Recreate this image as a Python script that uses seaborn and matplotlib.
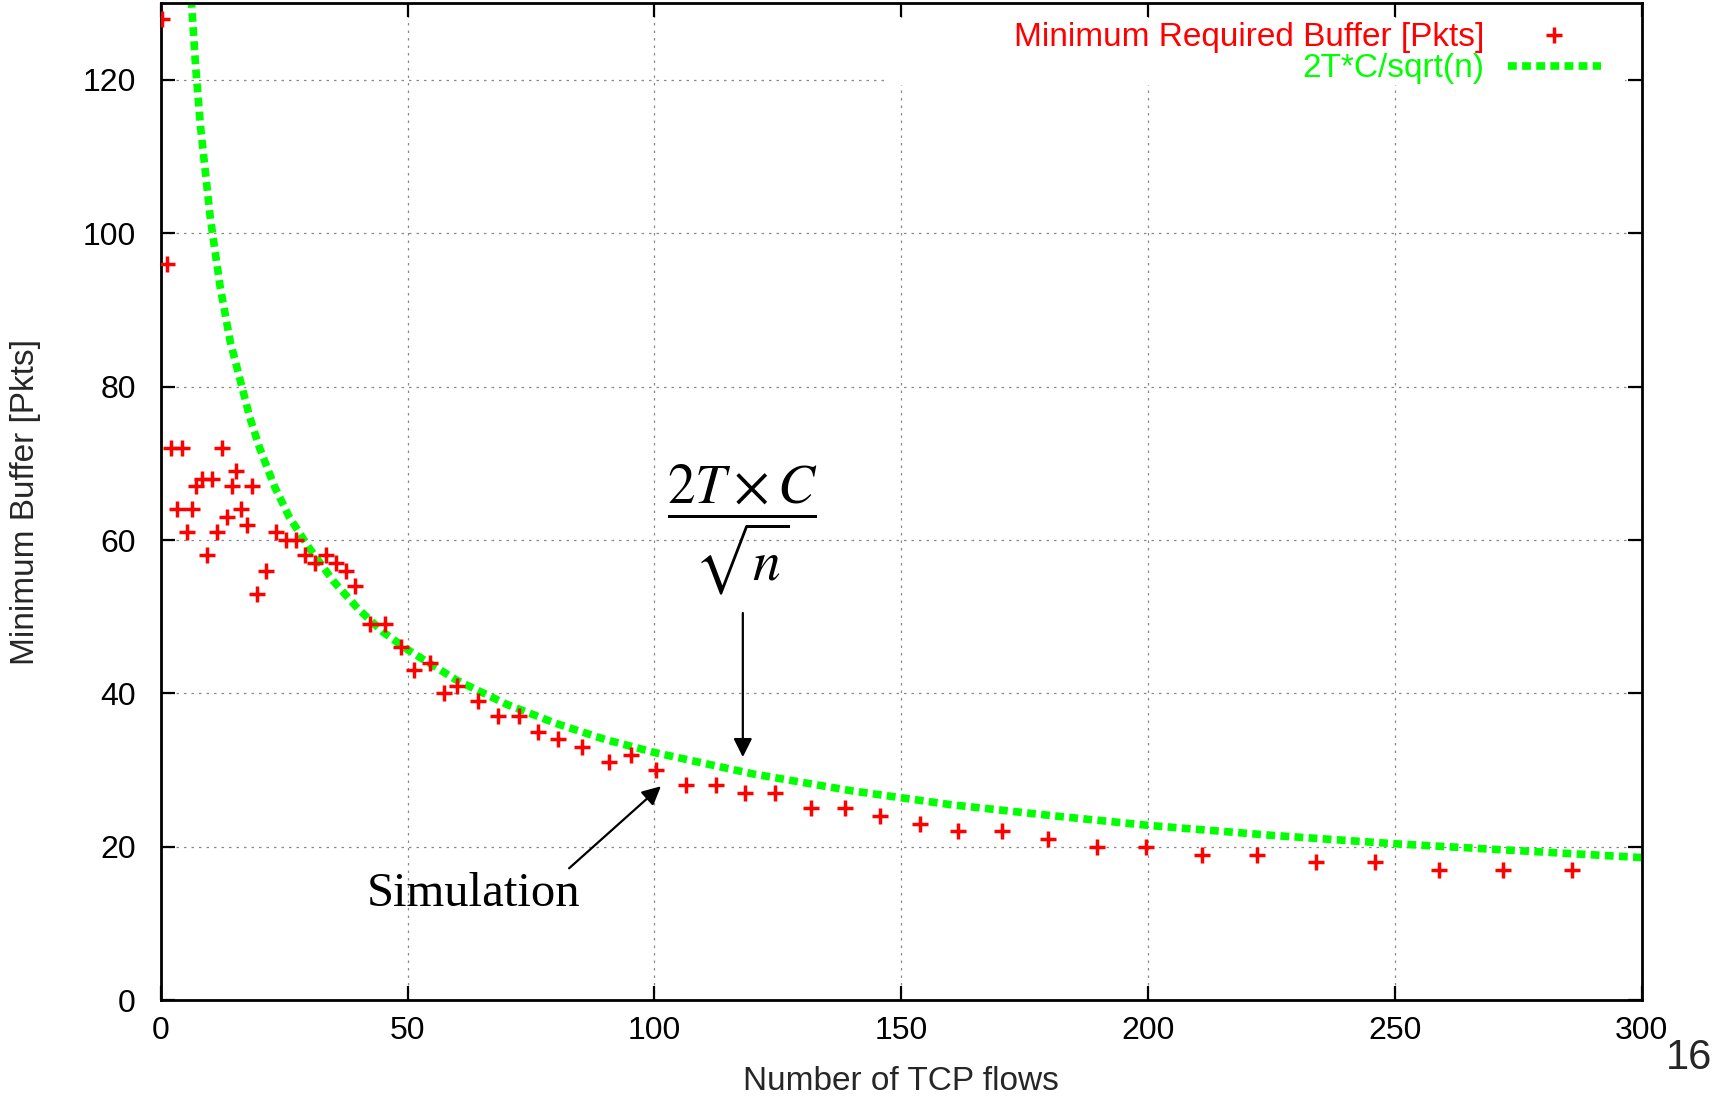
import matplotlib
matplotlib.use("Agg")
import matplotlib.pyplot as plt
import matplotlib.patches as mpatches
from matplotlib.lines import Line2D
import pandas as pd
import seaborn as sns

# simulation: minimum required buffer vs number of flows
flows = [0.3, 1.3, 2.1, 3.2, 4.2, 5.3, 6.2, 7.2, 8.3, 9.3, 10.3, 11.3, 12.3, 13.3,
         14.3, 15.2, 16.2, 17.4, 18.4, 19.4, 21.3, 23.3, 25.3, 27.4, 29.2, 31.2,
         33.4, 35.4, 37.4, 39.3, 42.4, 45.4, 48.6, 51.2, 54.5, 57.4, 60, 64.3,
         68.3, 72.5, 76.3, 80.5, 85.4, 90.7, 95.3, 100.4, 106.4, 112.4, 118.4,
         124.4, 131.7, 138.6, 145.7, 153.7, 161.6, 170.5, 179.8, 189.6, 199.6,
         210.9, 222, 234, 246, 259, 272, 286]
min_buffer = [128, 96, 72, 64, 72, 61, 64, 67, 68, 58, 68, 61, 72, 63,
              67, 69, 64, 62, 67, 53, 56, 61, 60, 60, 58, 57,
              58, 57, 56, 54, 49, 49, 46, 43, 44, 40, 41, 39,
              37, 37, 35, 34, 33, 31, 32, 30, 28, 28, 27,
              27, 25, 25, 24, 23, 22, 22, 21, 20, 20,
              19, 19, 18, 18, 17, 17, 17]

# 2T*C/sqrt(n) curve, points
curve_n = [5.5, 6, 7, 8, 9, 10, 12, 14, 16, 18, 20, 23, 26, 30, 35, 40, 45, 50,
           60, 70, 80, 90, 100, 120, 140, 160, 180, 200, 225, 250, 275, 300]
curve_buf = [138, 132, 122, 114, 108, 102, 93, 86, 81, 76, 72, 67, 63, 59, 54.6,
             51, 48, 45.7, 41.7, 38.6, 36.1, 34, 32.3, 29.5, 27.3, 25.5, 24.1,
             22.8, 21.5, 20.4, 19.5, 18.6]

x_ticks = [0, 50, 100, 150, 200, 250, 300]
y_ticks = [0, 20, 40, 60, 80, 100, 120]

sim_label = "Minimum Required Buffer [Pkts]"
curve_label = "2T*C/sqrt(n)"

RED = "#ff0000"
GREEN = "#00ff00"

sns.set_theme(style="white")
plt.rcParams["font.family"] = ["Liberation Sans", "DejaVu Sans"]
plt.rcParams["mathtext.fontset"] = "stix"

sim_df = pd.DataFrame({"flows": flows, "buffer": min_buffer})
curve_df = pd.DataFrame({"flows": curve_n, "buffer": curve_buf})

fig, ax = plt.subplots(figsize=(17.16, 11.03), dpi=100)
fig.subplots_adjust(left=0.0938, right=0.9566, bottom=0.0932, top=0.997)

sns.scatterplot(data=sim_df, x="flows", y="buffer", marker="+", s=125,
                color=RED, linewidth=2.5, ax=ax, zorder=3, legend=False)
sns.lineplot(data=curve_df, x="flows", y="buffer", color=GREEN, lw=5.5,
             ax=ax, zorder=2, legend=False)
curve_line = ax.get_lines()[-1]
curve_line.set_dashes([1.15, 0.7])
curve_line.set_dash_capstyle("butt")

ax.set_xlim(0, 300)
ax.set_ylim(0, 130)
ax.set_xticks(x_ticks)
ax.set_yticks(y_ticks)

ax.set_axisbelow(True)
ax.grid(True, color="#8a8a8a", linestyle=(0, (2, 4)), linewidth=0.9)
for s in ax.spines.values():
    s.set_visible(True)
    s.set_color("black")
    s.set_linewidth(2.0)

ax.tick_params(axis="both", which="major", direction="in", length=10, width=1.6,
               top=True, right=True, bottom=True, left=True, colors="black",
               labelsize=23)
ax.tick_params(axis="y", pad=18)
ax.tick_params(axis="x", pad=11.5)

ax.set_xlabel("Number of TCP flows", fontsize=24)
ax.set_ylabel("Minimum Buffer [Pkts]", fontsize=24)
ax.xaxis.set_label_coords(0.5, -0.066)
ax.yaxis.set_label_coords(-0.081, 0.5)

# blank area behind the key, like gnuplot
ax.add_patch(mpatches.Rectangle((0.491, 0.918), 0.4978, 0.0673,
                                transform=ax.transAxes, facecolor="white",
                                edgecolor="none", zorder=0.7))

handles = [
    Line2D([], [], color=RED, marker="+", linestyle="none", markersize=11,
           markeredgewidth=2.5),
    Line2D([], [], color=GREEN, lw=5.5, dashes=[1.15, 0.7],
           dash_capstyle="butt"),
]
leg = ax.legend(handles, [sim_label, curve_label], loc="upper right",
                bbox_to_anchor=(0.9726, 0.981), frameon=False, fontsize=24,
                markerfirst=False, handlelength=2.8, handletextpad=0.7,
                borderpad=0, borderaxespad=0, labelspacing=0.0)
leg.get_texts()[0].set_color(RED)
leg.get_texts()[1].set_color(GREEN)

# annotations
ax.annotate("", xy=(101.3, 27.9), xytext=(82.7, 17.2),
            arrowprops=dict(arrowstyle="-|>", color="black", lw=1.6,
                            mutation_scale=28, shrinkA=0, shrinkB=0))
ax.text(63.4, 12.3, "Simulation", fontsize=35, ha="center", va="baseline",
        family=["Liberation Serif", "DejaVu Serif"], color="black")

ax.annotate("", xy=(117.9, 31.7), xytext=(117.9, 50.5),
            arrowprops=dict(arrowstyle="-|>", color="black", lw=1.6,
                            mutation_scale=28, shrinkA=0, shrinkB=0))
ax.text(117.7, 61.3, r"$\dfrac{2T\times C}{\sqrt{n}}$", fontsize=40,
        ha="center", va="center", color="black")

fig.text(0.998, 0.041, "16", fontsize=30, ha="right", va="center")

fig.savefig("out.png", dpi=100)
plt.close(fig)
